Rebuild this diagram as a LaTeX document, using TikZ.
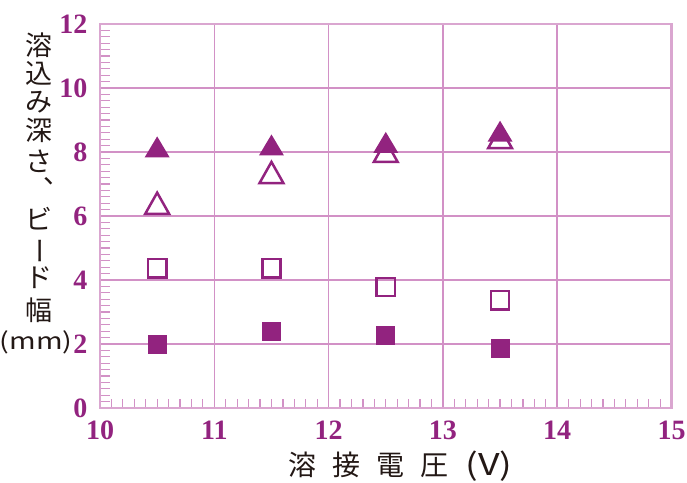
\documentclass[tikz,border=0pt]{standalone}
\usepackage{fontspec}
\usepackage{graphicx}
\setmainfont{Liberation Serif}
\newfontfamily\jpfont{Noto Sans CJK JP}
\definecolor{plum}{RGB}{146,35,127}
\definecolor{gridpink}{RGB}{210,145,198}
\definecolor{framepink}{RGB}{218,166,208}
\definecolor{inkblack}{RGB}{35,24,21}
\def\yticklen{0.0875}
\def\xticklen{0.28}

\begin{document}
\begin{tikzpicture}[x=57.15pt, y=16pt]
  \tikzstyle{grid line}=[gridpink, line width=0.75pt]
  \tikzstyle{minor tick}=[gridpink, line width=0.6pt]
  \tikzstyle{num}=[plum, inner sep=0pt, font=\fontsize{14}{14}\selectfont\bfseries]
  \tikzstyle{jp}=[inkblack, inner sep=0pt, font=\jpfont\fontsize{13.5}{13.5}\selectfont]

  \useasboundingbox (9.1251,-2.34375) rectangle (15.1356,12.75);

  % grid
  \foreach \x in {11,...,14}
    \draw[grid line] (\x,0) -- (\x,12);
  \foreach \y in {2,4,...,10}
    \draw[grid line] (10,\y) -- (15,\y);

  % minor ticks
  \foreach \i in {1,...,59}
    \draw[minor tick] (10,\i*0.2) -- ++(\yticklen,0);
  \foreach \i in {1,...,49}
    \draw[minor tick] (10+\i*0.1,0) -- ++(0,\xticklen);

  \draw[framepink, line width=1.4pt] (10,0) rectangle (15,12);

  % tick labels
  \foreach \y in {0,2,...,12}
    \node[num, anchor=east] (yl-\y) at (9.893,\y) {\y};
  \foreach \x in {10,...,15}
    \node[num] (xl-\x) at (\x,-0.6875) {\x};

  % y title, one glyph per row
  \foreach \ch/\py [count=\i] in {溶/45, 込/73.5, み/102.5, 深/130.5, さ/161, ビ/218.5, ド/278, 幅/310}
    \node[jp] (yt-\i) at (9.4663,{(408-\py)/32}) {\ch};
  \node[jp] (yt-comma) at (9.62,7.09) {、};
  \node[jp] (yt-bar) at (9.475,4.906) {\rotatebox[origin=c]{90}{\raisebox{0pt}[0.88em][0.12em]{ー}}};
  \node[jp, font=\jpfont\fontsize{11.5}{11.5}\selectfont] (yunit) at (9.44,2.047) {\scalebox{1.25}[1]{(mm)}};

  % x title
  \node[jp, anchor=base west, font=\jpfont\fontsize{14}{14}\selectfont] (xtitle) at (11.645,-2.097)
    {溶\hspace{8pt}接\hspace{8pt}電\hspace{8pt}圧\hspace{8.5pt}{\fontsize{15}{15}\selectfont\scalebox{1.25}[1]{(V)}}};

  % open triangles
  \foreach \x/\y in {10.5/6.42, 11.5/7.38, 12.5/8.04, 13.5/8.47}
    \draw[plum, line width=1.25pt] ([shift={(-5.95pt,-5.6pt)}]\x,\y) -- ++(11.9pt,0) -- ++(-5.95pt,10.55pt) -- cycle;
  % filled triangles
  \foreach \x/\y in {10.5/8.16, 11.5/8.22, 12.5/8.30, 13.5/8.65}
    \fill[plum] ([shift={(-6.25pt,-5.25pt)}]\x,\y) -- ++(12.5pt,0) -- ++(-6.25pt,10.5pt) -- cycle;
  % open squares
  \foreach \x/\y in {10.5/4.37, 11.5/4.37, 12.5/3.78, 13.5/3.37}
    \draw[plum, line width=1.25pt] ([shift={(-4.55pt,-4.55pt)}]\x,\y) rectangle ++(9.1pt,9.1pt);
  % filled squares
  \foreach \x/\y in {10.5/2.0, 11.5/2.39, 12.5/2.27, 13.5/1.87}
    \fill[plum] ([shift={(-4.75pt,-4.75pt)}]\x,\y) rectangle ++(9.5pt,9.5pt);
\end{tikzpicture}
\end{document}
